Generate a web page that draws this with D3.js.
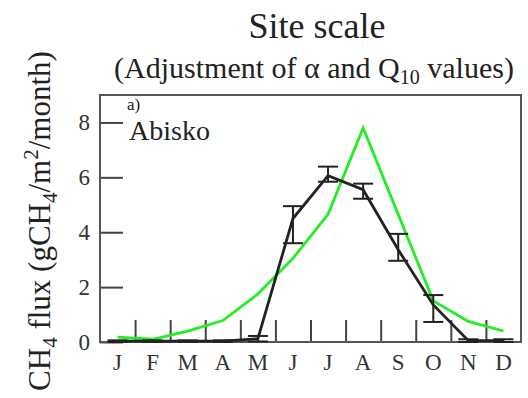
<!DOCTYPE html>
<html>
<head>
<meta charset="utf-8">
<script src="https://cdn.jsdelivr.net/npm/d3@7"></script>
<style>
  body { margin: 0; background: #fff; }
  svg text { font-family: "Liberation Serif", "DejaVu Serif", serif; }
</style>
</head>
<body>
<div id="chart"></div>
<script>
// Abisko monthly CH4 flux, observed vs model
const months = ["J", "F", "M", "A", "M", "J", "J", "A", "S", "O", "N", "D"]
const obs = [0.03, 0.03, 0.03, 0.03, 0.12, 4.5, 6.06, 5.55, 3.36, 1.35, 0.05, 0.05]
const obsLow = [0.0, 0.0, 0.0, 0.0, 0.02, 3.6, 5.84, 5.22, 2.96, 0.73, 0.0, 0.0]
const obsHigh = [0.06, 0.06, 0.06, 0.06, 0.22, 4.95, 6.39, 5.77, 3.94, 1.71, 0.1, 0.1]
const model = [0.18, 0.1, 0.4, 0.78, 1.75, 3.05, 4.65, 7.8, 4.65, 1.5, 0.75, 0.4]
const yTicks = [0, 2, 4, 6, 8]

const width = 528, height = 398
const margin = {top: 95, right: 7, bottom: 56, left: 100}
const serif = "Liberation Serif"

const svg = d3.select("#chart")
    .append("svg")
    .attr("width", width)
    .attr("height", height)

const x = d3.scaleLinear()
    .domain([0, 12])
    .range([margin.left, width - margin.right])

const xMonth = d3.scaleBand()
    .domain(d3.range(12))
    .range([margin.left, width - margin.right])

const y = d3.scaleLinear()
    .domain([0, 9])
    .range([height - margin.bottom, margin.top])

const cx = i => xMonth(i) + xMonth.bandwidth() / 2

// y axis, ticks pointing in
const yAxis = svg.append("g")
    .attr("transform", `translate(${margin.left},0)`)
    .call(d3.axisLeft(y).tickValues(yTicks).tickSize(-23).tickPadding(10))
yAxis.attr("font-family", serif)
yAxis.select(".domain").remove()
yAxis.selectAll("line").attr("stroke", "#444").attr("stroke-width", 2)
yAxis.selectAll("text").attr("font-size", 23).attr("fill", "#333")

// month boundary ticks along the bottom
const xAxis = svg.append("g")
    .attr("transform", `translate(0,${height - margin.bottom})`)
    .call(d3.axisBottom(x).tickValues(d3.range(1, 12)).tickSize(-22).tickFormat(""))
xAxis.select(".domain").remove()
xAxis.selectAll("line").attr("stroke", "#444").attr("stroke-width", 2)

// month labels
const xLab = svg.append("g")
    .attr("transform", `translate(0,${height - margin.bottom})`)
    .call(d3.axisBottom(xMonth).tickSize(0).tickPadding(12).tickFormat(i => months[i]))
xLab.attr("font-family", serif)
xLab.select(".domain").remove()
xLab.selectAll("text").attr("font-size", 23).attr("fill", "#333")

// frame
svg.append("rect")
    .attr("x", margin.left)
    .attr("y", margin.top)
    .attr("width", width - margin.left - margin.right)
    .attr("height", height - margin.top - margin.bottom)
    .attr("fill", "none")
    .attr("stroke", "#555")
    .attr("stroke-width", 2)

const line = d3.line()
    .x((d, i) => cx(i))
    .y(d => y(d))

// model (green)
svg.append("path")
    .datum(model)
    .attr("d", line)
    .attr("fill", "none")
    .attr("stroke", "#22ee22")
    .attr("stroke-width", 2.8)

// observations with error bars
const bars = svg.append("g")
    .attr("stroke", "#222")
    .attr("stroke-width", 2)
    .selectAll("g")
    .data(d3.range(12))
    .join("g")

bars.append("line")
    .attr("x1", i => cx(i)).attr("x2", i => cx(i))
    .attr("y1", i => y(obsLow[i])).attr("y2", i => y(obsHigh[i]))
bars.append("line")
    .attr("x1", i => cx(i) - 10).attr("x2", i => cx(i) + 10)
    .attr("y1", i => y(obsHigh[i])).attr("y2", i => y(obsHigh[i]))
bars.append("line")
    .attr("x1", i => cx(i) - 10).attr("x2", i => cx(i) + 10)
    .attr("y1", i => y(obsLow[i])).attr("y2", i => y(obsLow[i]))

svg.append("path")
    .datum(obs)
    .attr("d", line)
    .attr("fill", "none")
    .attr("stroke", "#222")
    .attr("stroke-width", 2.8)

// panel labels
svg.append("text")
    .attr("x", 127).attr("y", 110)
    .attr("font-family", serif)
    .attr("font-size", 17)
    .attr("fill", "#222")
    .text("a)")
svg.append("text")
    .attr("x", 129).attr("y", 140)
    .attr("font-family", serif)
    .attr("font-size", 28)
    .attr("fill", "#222")
    .text("Abisko")

// titles
svg.append("text")
    .attr("x", 317).attr("y", 38)
    .attr("text-anchor", "middle")
    .attr("font-family", serif)
    .attr("font-size", 36)
    .attr("fill", "#222")
    .text("Site scale")

const sub = svg.append("text")
    .attr("x", 314).attr("y", 78)
    .attr("text-anchor", "middle")
    .attr("font-family", serif)
    .attr("font-size", 30)
    .attr("fill", "#222")
sub.append("tspan").text("(Adjustment of α and Q")
sub.append("tspan").attr("font-size", 20).attr("dy", 6).text("10")
sub.append("tspan").attr("dy", -6).text(" values)")

// y label
const yl = svg.append("text")
    .attr("transform", "translate(50,221) rotate(-90)")
    .attr("text-anchor", "middle")
    .attr("font-family", serif)
    .attr("font-size", 31)
    .attr("fill", "#222")
yl.append("tspan").text("CH")
yl.append("tspan").attr("font-size", 21).attr("dy", 7).text("4")
yl.append("tspan").attr("dy", -7).text(" flux (gCH")
yl.append("tspan").attr("font-size", 21).attr("dy", 7).text("4")
yl.append("tspan").attr("dy", -7).text("/m")
yl.append("tspan").attr("font-size", 21).attr("dy", -12).text("2")
yl.append("tspan").attr("dy", 12).text("/month)")
</script>
</body>
</html>
